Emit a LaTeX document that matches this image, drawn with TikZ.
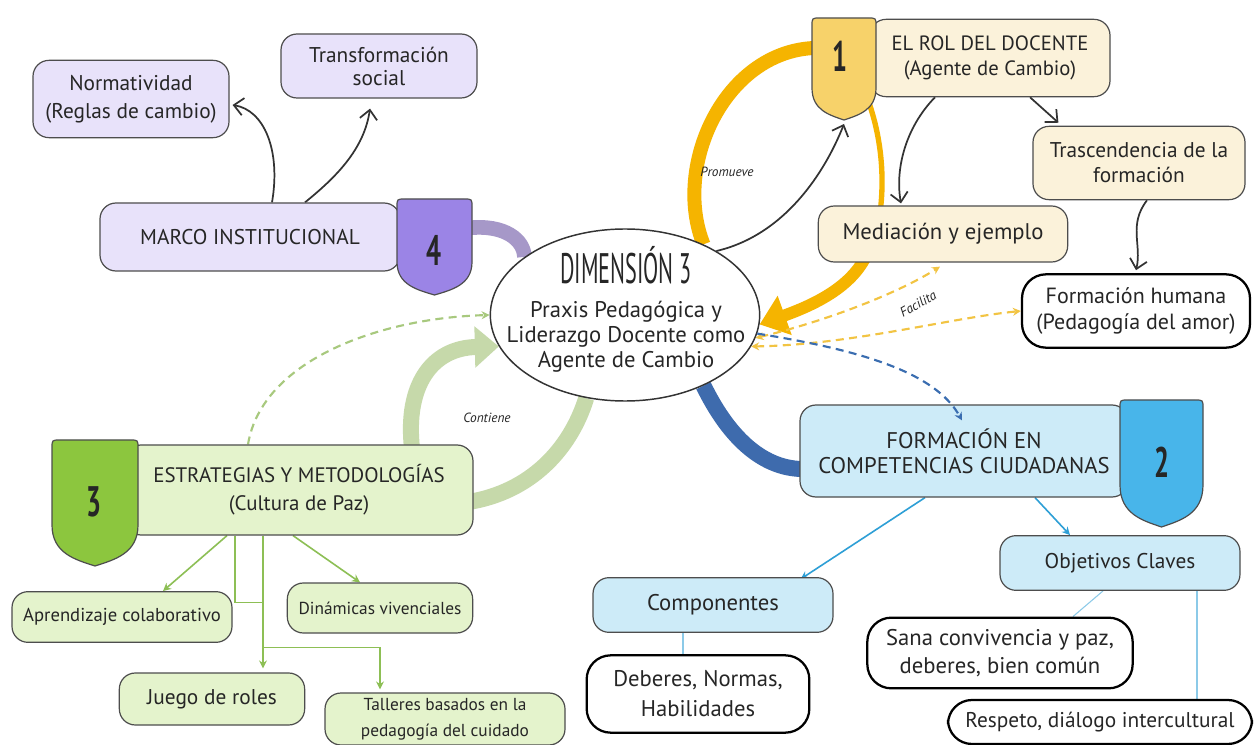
\documentclass[tikz,border=0pt]{standalone}
\usepackage{fontspec}
\setmainfont{PT Sans}
\usetikzlibrary{arrows.meta,shapes.geometric,calc}
\pgfdeclarelayer{bg}
\pgfsetlayers{bg,main}

\definecolor{inktext}{HTML}{262626}
\definecolor{ink}{HTML}{333333}
\definecolor{boxedge}{HTML}{4D4D4D}
\definecolor{lav}{HTML}{E8E2FA}
\definecolor{lavbadge}{HTML}{9B84E6}
\definecolor{lavband}{HTML}{A698C8}
\definecolor{cream}{HTML}{FBF2DA}
\definecolor{gold}{HTML}{F5B400}
\definecolor{goldbadge}{HTML}{F7D26A}
\definecolor{golddash}{HTML}{F2C443}
\definecolor{skyfill}{HTML}{CDEBF8}
\definecolor{skybadge}{HTML}{48B5EA}
\definecolor{skyline}{HTML}{2E9FD6}
\definecolor{navyband}{HTML}{3E6BAD}
\definecolor{navydash}{HTML}{3A6DB0}
\definecolor{limefill}{HTML}{E4F3CC}
\definecolor{limebadge}{HTML}{8CC63E}
\definecolor{limeline}{HTML}{8DBF55}
\definecolor{paleband}{HTML}{C6D9AA}
\definecolor{limedash}{HTML}{A8C97E}

% shield-shaped number tab: left, right, top, end of straight sides, tip, fill
\newcommand{\shieldbadge}[6]{%
  \filldraw[fill=#6, draw=boxedge, line width=0.9pt]
    (#1,#4) -- (#1,{#3+8}) .. controls (#1,#3) .. ({#1+8},#3)
    -- ({#2-8},#3) .. controls (#2,#3) .. (#2,{#3+8})
    -- (#2,#4)
    .. controls (#2,{#4+0.7*(#5-#4)}) and ({0.5*(#1+#2)+0.22*(#2-#1)},{#5-0.15*(#5-#4)}) .. ({0.5*(#1+#2)},#5)
    .. controls ({0.5*(#1+#2)-0.22*(#2-#1)},{#5-0.15*(#5-#4)}) and (#1,{#4+0.7*(#5-#4)}) .. cycle;}

\tikzset{
  card/.style={draw=boxedge, line width=0.9pt, rounded corners=12pt, align=center, inner sep=0pt, text=inktext},
  lavcard/.style={card, fill=lav},
  creamcard/.style={card, fill=cream},
  skycard/.style={card, fill=skyfill},
  limecard/.style={card, fill=limefill},
  pill/.style={draw=black, line width=1.7pt, rounded corners=18pt, fill=white, align=center, inner sep=0pt, text=inktext},
  numtag/.style={text=inktext, font=\bfseries\fontsize{32}{32}\selectfont, inner sep=0pt},
  lbl/.style={text=inktext, font=\itshape\fontsize{10}{10}\selectfont, inner sep=1pt},
  conn/.style={draw=ink, line width=1.3pt, -{Straight Barb[length=7pt,width=13pt]}},
  gline/.style={draw=limeline, line width=1.2pt},
  garrow/.style={gline, -{Stealth[length=6pt,width=6pt]}},
  bline/.style={draw=skyline, line width=1.2pt, -{Stealth[length=6pt,width=6pt]}},
  bthin/.style={draw=skyline!55, line width=0.8pt},
  ydash/.style={draw=golddash, line width=1.6pt, dash pattern=on 6pt off 4pt,
    {Stealth[length=6pt,width=6pt]}-{Stealth[length=6pt,width=6pt]}},
}

\begin{document}
\begin{tikzpicture}[x=0.75pt,y=-0.75pt]
\useasboundingbox (0,0) rectangle (1254,745);

% central topic
\node[ellipse, draw=ink, line width=1.1pt, fill=white, minimum width=202pt, minimum height=129pt] (dim) at (625,315) {};
\node[inner sep=0pt, text=inktext] (dimtitle) at (626,265) {\scalebox{0.52}[1]{\fontsize{32}{32}\selectfont DIMENSIÓN 3}};
\node[inner sep=0pt, text=inktext, align=center, font=\fontsize{17}{18.75}\selectfont] (dimbody) at (626,337) {Praxis Pedagógica y\\Liderazgo Docente como\\Agente de Cambio};

% branch 4
\node[lavcard, minimum width=225pt, minimum height=51pt, font=\fontsize{16}{19}\selectfont] (marco) at (250,237) {MARCO INSTITUCIONAL};
\node[lavcard, minimum width=147pt, minimum height=58pt, font=\fontsize{16}{21}\selectfont] (norm) at (131,99) {Normatividad\\(Reglas de cambio)};
\node[lavcard, minimum width=147pt, minimum height=48pt, font=\fontsize{16}{17.25}\selectfont] (transf) at (379,66) {Transformación\\social};

% branch 1
\node[creamcard, minimum width=180pt, minimum height=58pt, font=\fontsize{15.5}{18.75}\selectfont] (rol) at (990,58) {EL ROL DEL DOCENTE\\(Agente de Cambio)};
\node[creamcard, minimum width=187pt, minimum height=42pt, font=\fontsize{17}{20}\selectfont] (mediacion) at (943,234) {Mediación y ejemplo};
\node[creamcard, minimum width=159pt, minimum height=55pt, font=\fontsize{16}{18.75}\selectfont] (trasc) at (1139,163) {Trascendencia de la\\formación};
\node[pill, minimum width=171pt, minimum height=55pt, font=\fontsize{16.5}{20}\selectfont] (formhum) at (1136,311) {Formación humana\\(Pedagogía del amor)};

% branch 2
\node[skycard, minimum width=246pt, minimum height=69pt, font=\fontsize{17}{18.75}\selectfont] (formacion) at (964,451) {FORMACIÓN EN\\COMPETENCIAS CIUDADANAS};
\node[skycard, minimum width=180pt, minimum height=41pt, font=\fontsize{17}{20}\selectfont] (componentes) at (713,605) {Componentes};
\node[pill, minimum width=167pt, minimum height=58pt, font=\fontsize{17}{22.5}\selectfont] (deberes) at (698,694) {Deberes, Normas,\\Habilidades};
\node[skycard, minimum width=180pt, minimum height=41pt, font=\fontsize{16}{20}\selectfont] (objetivos) at (1120,563) {Objetivos Claves};
\node[pill, minimum width=199pt, minimum height=53pt, font=\fontsize{17}{21}\selectfont] (sana) at (1000,653) {Sana convivencia y paz,\\deberes, bien común};
\node[pill, minimum width=228pt, minimum height=33pt, font=\fontsize{16}{20}\selectfont] (respeto) at (1100,722) {Respeto, diálogo intercultural};

% branch 3
\node[limecard, minimum width=261pt, minimum height=67.5pt, font=\fontsize{15.7}{21}\selectfont] (estrat) at (299,490) {ESTRATEGIAS Y METODOLOGÍAS\\(Cultura de Paz)};
\node[limecard, minimum width=165pt, minimum height=38pt, font=\fontsize{14}{17}\selectfont] (aprend) at (122,617) {Aprendizaje colaborativo};
\node[limecard, minimum width=139pt, minimum height=37.5pt, font=\fontsize{13}{16}\selectfont] (dinam) at (380,608) {Dinámicas vivenciales};
\node[limecard, minimum width=139pt, minimum height=39pt, font=\fontsize{16}{19}\selectfont] (juego) at (212,699) {Juego de roles};
\node[limecard, minimum width=180pt, minimum height=39pt, font=\fontsize{13}{19.5}\selectfont] (talleres) at (445,719) {Talleres basados en la\\pedagogía del cuidado};

% number tabs
\shieldbadge{397}{472}{199}{262}{295}{lavbadge}
\shieldbadge{812}{876}{18}{88}{120}{goldbadge}
\shieldbadge{1120}{1203}{400}{485}{527}{skybadge}
\shieldbadge{52}{138}{440}{525}{566}{limebadge}
\node[numtag] (n4) at (434,250) {\scalebox{0.62}[1]{4}};
\node[numtag] (n1) at (840,56) {\scalebox{0.62}[1]{1}};
\node[numtag] (n2) at (1162,462) {\scalebox{0.62}[1]{2}};
\node[numtag] (n3) at (94,502) {\scalebox{0.62}[1]{3}};

\coordinate (b4right) at (468,228);
\coordinate (b1left) at (814,48);
\coordinate (b1right) at (868,100);
\coordinate (b1tip) at (844,124);

% link labels
\node[lbl] (promueve) at (727,172) {Promueve};
\node[lbl, rotate=30] (facilita) at (918,304) {Facilita};
\node[lbl] (contiene) at (487,418) {Contiene};

\begin{pgfonlayer}{bg}
\fill[white] (0,0) rectangle (1254,745);
% thick branch ribbons
\draw[lavband, line width=11pt] (b4right) .. controls (505,224) and (524,240) .. (dim.150);
\draw[navyband, line width=12pt] (dim.-42) .. controls (730,440) and (765,470) .. ($(formacion.west)+(6,18)$);
\draw[gold, line width=10.5pt] (dim.42) .. controls (672,165) and (725,52) .. (b1left);
\draw[gold, line width=4pt] (b1right) .. controls (886,150) and (886,205) .. (872,250);
\draw[gold, line width=9pt, -{Triangle[length=20pt,width=30pt]}] (872,238) .. controls (864,280) and (822,302) .. (dim.-4);
\draw[paleband, line width=12pt, -{Triangle[length=18pt,width=30pt]}] ($(estrat.north)+(113,4)$) .. controls (405,385) and (432,348) .. (dim.194);
\draw[paleband, line width=12pt] (dim.-115) .. controls (570,450) and (530,492) .. ($(estrat.east)+(-5,12)$);
\draw[limedash, line width=1.6pt, dash pattern=on 6pt off 4pt, -{Stealth[length=6pt,width=6pt]}] ($(estrat.north)+(-51,0)$) .. controls (262,360) and (380,318) .. (dim.180);

% branch 4 links
\draw[conn] ($(marco.north)+(22,0)$) .. controls (281,150) and (264,110) .. ($(norm.east)+(3,6)$);
\draw[conn] ($(marco.north)+(55,0)$) .. controls (335,178) and (364,150) .. ($(transf.south)+(-9,10)$);

% branch 1 links
\draw[conn] (dim.35) .. controls (785,235) and (825,172) .. (b1tip);
\draw[conn] ($(rol.south)+(-55,0)$) .. controls (905,128) and (895,170) .. ($(mediacion.north)+(-42,-2)$);
\draw[conn] ($(rol.south)+(40,0)$) -- ($(trasc.north west)+(26,-3)$);
\draw[conn] ($(trasc.south)+(8,0)$) .. controls (1128,225) and (1142,245) .. ($(formhum.north)+(0,-3)$);

% branch 2 links
\draw[bline] ($(formacion.south)+(-39,0)$) -- ($(componentes.north east)+(-33,2)$);
\draw[bline] ($(formacion.south)+(71,0)$) -- ($(objetivos.north)+(-50,0)$);
\draw[bthin] ($(componentes.south)+(-30,0)$) -- ($(deberes.north)+(-15,0)$);
\draw[bthin] ($(objetivos.south)+(-17,0)$) -- ($(sana.north)+(73,0)$);
\draw[bthin] ($(objetivos.south)+(77,0)$) -- ($(respeto.north)+(97,0)$);

% branch 3 links
\draw[garrow] ($(estrat.south)+(-72,0)$) -- ($(aprend.north)+(41,0)$);
\draw[garrow] ($(estrat.south)+(-6,0)$) -- ($(dinam.north)+(-20,0)$);
\draw[gline] ($(estrat.south)+(-64,0)$) |- ($(estrat.south)+(-37,67)$);
\draw[garrow] ($(estrat.south)+(-36,0)$) -- ($(juego.north)+(51,-4)$);
\draw[garrow] ($(estrat.south)+(-36,112)$) -| ($(talleres.north)+(-65,-3)$);
\end{pgfonlayer}

% dashed cross links
\draw[ydash] (dim.-10) .. controls (830,320) and (900,292) .. ($(mediacion.south)+(-3,4)$);
\draw[ydash] (dim.-14) .. controls (850,345) and (950,318) .. (formhum.west);
\draw[navydash, line width=1.6pt, dash pattern=on 6pt off 4pt, -{Stealth[length=6pt,width=6pt]}] (dim.-8) .. controls (860,350) and (935,372) .. ($(formacion.north)+(-2,16)$);
\end{tikzpicture}
\end{document}
